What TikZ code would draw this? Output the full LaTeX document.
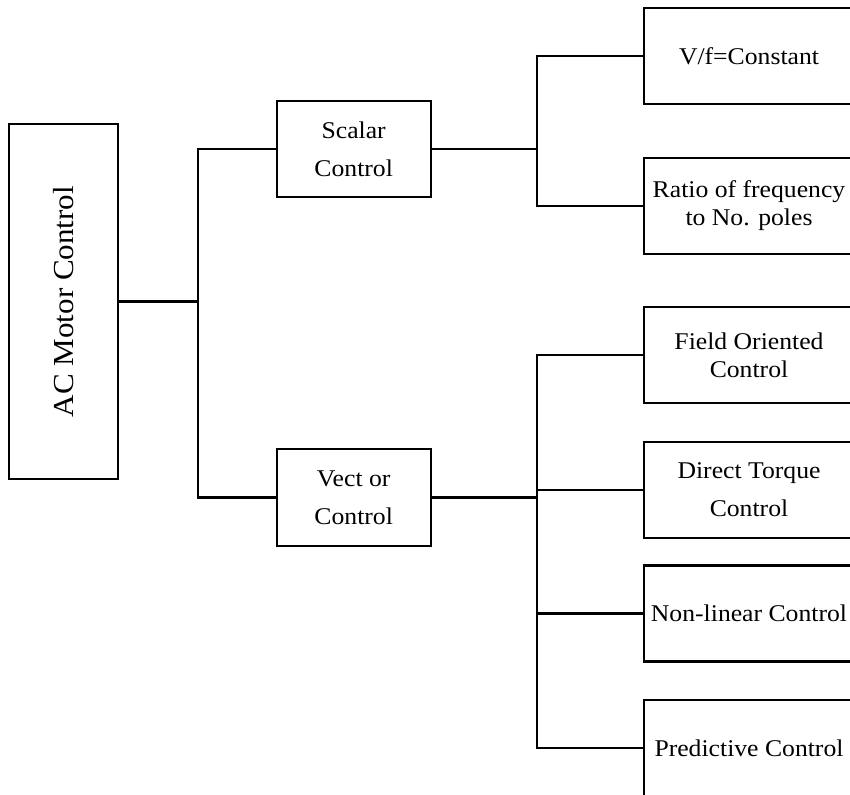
\documentclass[tikz,border=0pt]{standalone}
\usepackage{graphicx}
\usepackage{fontspec}
\setmainfont{Liberation Serif}
\newfontfamily\boxfont[FakeStretch=1.07]{Liberation Serif}
\begin{document}
\begin{tikzpicture}[x=1pt,y=-1pt,
  blk/.style={draw=black,line width=2.2pt,rectangle,inner sep=0pt,align=center,
    font=\boxfont\fontsize{24}{28}\selectfont},
  midbox/.style={blk,minimum width=154pt,minimum height=96pt,font=\boxfont\fontsize{24}{38}\selectfont},
  leafbox/.style={blk,minimum width=210pt,minimum height=96pt},
  conn/.style={line width=2.2pt,line join=miter}]
\useasboundingbox (0,0) rectangle (850,794);
\clip (0,0) rectangle (850,794);
\node[blk,minimum width=109pt,minimum height=355pt] (ac) at (63.5,301.5)
  {\rotatebox{90}{\boxfont\fontsize{29}{34}\selectfont AC Motor Control}};
\node[midbox] (scalar) at (353.7,149) {Scalar\\Control};
\node[midbox,minimum height=97pt] (vector) at (353.7,497.5) {Vect or\\Control};
\node[leafbox] (vf) at (749,56) {V/f=Constant};
\node[leafbox] (ratio) at (749,206) {Ratio of frequency\\to No. poles};
\node[leafbox] (foc) at (749,355) {Field Oriented\\Control};
\node[leafbox,font=\boxfont\fontsize{24}{38}\selectfont] (dtc) at (749,490) {Direct Torque\\Control};
\node[leafbox] (nlc) at (749,613.5) {Non-linear Control};
\node[leafbox] (pred) at (749,748) {Predictive Control};
\coordinate (j1) at (198,301.5);
\coordinate (j2) at (537,149);
\coordinate (j3) at (537,497.5);
\draw[conn] (ac.east) -- (j1);
\draw[conn] (scalar.west) -| (j1) |- (vector.west);
\draw[conn] (scalar.east) -- (j2);
\draw[conn] (vf.west) -| (j2) |- (ratio.west);
\draw[conn] (vector.east) -- (j3);
\draw[conn] (foc.west) -| (j3) |- (pred.west);
\draw[conn] (dtc.west) -- (dtc.west -| j3);
\draw[conn] (nlc.west) -- (nlc.west -| j3);
\end{tikzpicture}
\end{document}
